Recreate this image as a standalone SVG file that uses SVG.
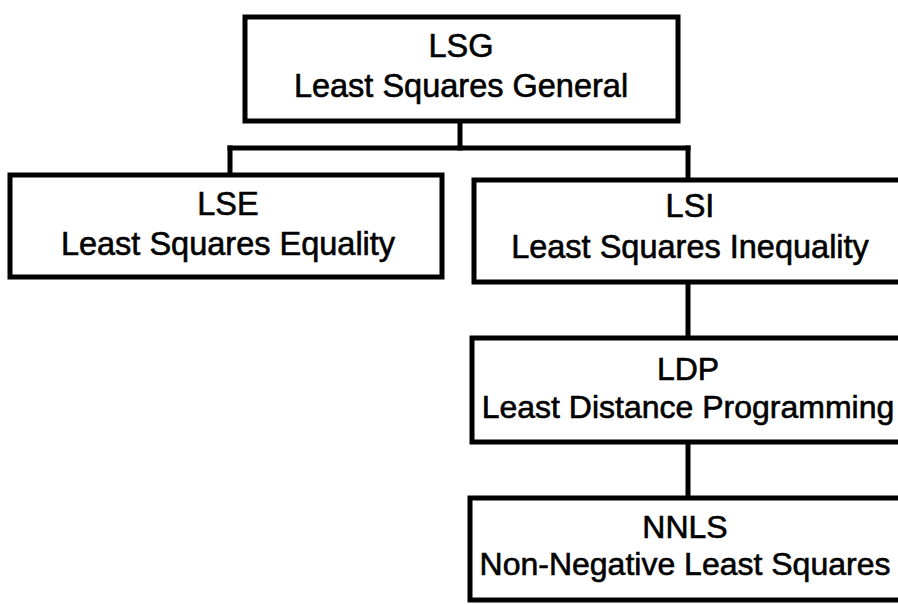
<svg xmlns="http://www.w3.org/2000/svg" width="898" height="605" viewBox="0 0 898 605">
  <style>
    .box { fill: #ffffff; stroke: #000000; stroke-width: 5; }
    .conn { fill: none; stroke: #000000; stroke-width: 5; stroke-linecap: square; }
    .t { font-family: "Liberation Sans", Arial, sans-serif; fill: #000000; stroke: #000000; stroke-width: 0.6; text-anchor: middle; }
    .big { font-size: 32.5px; }
    .sm { font-size: 32px; }
  </style>
  <rect x="0" y="0" width="898" height="605" fill="#ffffff"/>
  <g id="connectors">
    <line class="conn" x1="460" y1="121" x2="460" y2="148"/>
    <line class="conn" x1="230" y1="148" x2="688" y2="148"/>
    <line class="conn" x1="230" y1="148" x2="230" y2="175"/>
    <line class="conn" x1="688" y1="148" x2="688" y2="180"/>
    <line class="conn" x1="688" y1="282" x2="688" y2="338"/>
    <line class="conn" x1="688" y1="442" x2="688" y2="498"/>
  </g>
  <g id="LSG">
    <rect class="box" x="245" y="17" width="433" height="104"/>
    <text class="t big" x="461" y="57">LSG</text>
    <text class="t big" x="461" y="97">Least Squares General</text>
  </g>
  <g id="LSE">
    <rect class="box" x="10" y="175" width="432" height="102"/>
    <text class="t big" x="228" y="215">LSE</text>
    <text class="t big" x="228" y="255">Least Squares Equality</text>
  </g>
  <g id="LSI">
    <rect class="box" x="474" y="180" width="440" height="102"/>
    <text class="t big" x="690" y="217">LSI</text>
    <text class="t big" x="690" y="258">Least Squares Inequality</text>
  </g>
  <g id="LDP">
    <rect class="box" x="472" y="338" width="440" height="104"/>
    <text class="t sm" x="688" y="380">LDP</text>
    <text class="t sm" x="688" y="418">Least Distance Programming</text>
  </g>
  <g id="NNLS">
    <rect class="box" x="470" y="498" width="440" height="102"/>
    <text class="t sm" x="685" y="538">NNLS</text>
    <text class="t sm" x="685" y="575">Non-Negative Least Squares</text>
  </g>
</svg>
